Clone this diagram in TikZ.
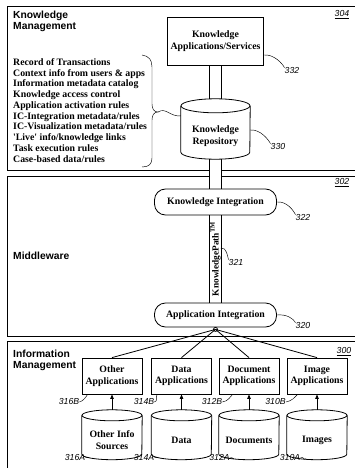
\documentclass[tikz,border=0pt]{standalone}
\usepackage{fontspec}
\setmainfont{Liberation Serif}
\newfontfamily\hfont{Liberation Sans}
\usetikzlibrary{arrows.meta,calc}
\pgfdeclarelayer{background}
\pgfsetlayers{background,main}
\newcommand\cylshape[3]{% node, rx, ry
  \draw[line] ([yshift=#3]#1.north west) -- ([yshift=#3]#1.south west)
    arc[start angle=180,end angle=360,x radius=#2,y radius=#3]
    -- ([yshift=#3]#1.north east);
  \draw[line] ([yshift=#3]#1.north) ellipse[x radius=#2,y radius=#3];
}
\newcommand\pipeseg[3]{% from, to, fill extra
  \begin{pgfonlayer}{background}
    \fill[white] ([xshift=-6pt,yshift=-#3]#1) rectangle ([xshift=6pt,yshift=#3]#2);
  \end{pgfonlayer}
  \draw[line] ([xshift=-6pt]#1) -- ([xshift=-6pt]#1 |- #2);
  \draw[line] ([xshift=6pt]#1) -- ([xshift=6pt]#1 |- #2);
}
\begin{document}
\begin{tikzpicture}[x=1pt,y=1pt,
  line/.style={line width=0.8pt},
  panel/.style={line width=1pt},
  box/.style={draw,line width=0.8pt,align=center,inner sep=1pt,font=\bfseries\fontsize{9.8}{11.5}\selectfont},
  pill/.style={box,rounded corners=11pt,minimum width=122pt},
  cyltext/.style={align=center,inner sep=0pt,font=\bfseries\fontsize{9.8}{11.5}\selectfont},
  head/.style={anchor=base west,inner sep=0pt,font=\hfont\bfseries\fontsize{10.3}{10.5}\selectfont},
  num/.style={inner sep=0pt,font=\hfont\itshape\fontsize{8.7}{9}\selectfont},
  leader/.style={line width=0.45pt},
  conn/.style={line width=0.8pt},
  uparrow/.style={line width=0.8pt,-{Triangle[length=4.5pt,width=3.5pt]}},
]
\useasboundingbox (0,0) rectangle (354,-468);
\clip (0,0) rectangle (354,-468);

% panels
\begin{pgfonlayer}{background}
\draw[panel] (7,-7) rectangle (370,-170);
\draw[panel] (7,-176) rectangle (370,-336);
\draw[panel] (7,-341) rectangle (370,-480);
\end{pgfonlayer}

% headings
\node[head] (km1) at (13,-19) {Knowledge};
\node[head] (km2) at (13,-29.5) {Management};
\node[head] (mw) at (13,-259) {Middleware};
\node[head] (im1) at (13,-357) {Information};
\node[head] (im2) at (13,-368) {Management};

\node[num] (n304) at (342,-15) {\underline{304}};
\node[num] (n302) at (342,-183) {\underline{302}};
\node[num] (n300) at (344,-352) {\underline{300}};

% list
\node[anchor=north west,inner sep=0pt,align=left,font=\bfseries\fontsize{9.8}{10.75}\selectfont] (list) at (13,-58.2)
 {Record of Transactions\\Context info from users \& apps\\Information metadata catalog\\Knowledge access control\\Application activation rules\\IC-Integration metadata/rules\\IC-Visualization metadata/rules\\\textquotesingle Live\textquotesingle{} info/knowledge links\\Task execution rules\\Case-based data/rules};

% main column
\node[box,minimum width=96pt,minimum height=48pt] (ka) at (215.5,-41) {Knowledge\\Applications/Services};
\node[cyltext,minimum width=69pt,minimum height=46pt] (kr) at (215.5,-136) {Knowledge\\Repository};
\cylshape{kr}{34.5pt}{7pt}
\coordinate (krtop) at ([yshift=14pt]kr.north);
\node[pill,minimum height=26pt] (ki) at (215.5,-202) {Knowledge Integration};
\node[pill,minimum height=24pt] (ai) at (215.5,-315) {Application Integration};

\pipeseg{ka.south}{krtop}{0pt}
\pipeseg{kr.south}{ki.north}{-2pt}
\pipeseg{ki.south}{ai.north}{-1pt}
\node[rotate=90,inner sep=0pt,font=\bfseries\fontsize{9.3}{10}\selectfont] (kp) at ($(ki.south)!0.5!(ai.north)$) {KnowledgePath\textsuperscript{TM}};

% brace
\draw[leader] (142,-55) .. controls (149,-56) and (152,-60) .. (152,-67) -- (152,-104)
  .. controls (152,-109) and (154,-112) .. (158,-112) coordinate (brtip)
  .. controls (154,-112) and (152,-115) .. (152,-120) -- (152,-158)
  .. controls (152,-164) and (149,-167) .. (142,-167);
\draw[leader] (brtip) .. controls (166,-107) and (170,-117) .. ([yshift=-3pt]kr.north west);

% number labels
\node[num] (n332) at (292,-71) {332};
\draw[leader] ([yshift=-14pt]ka.east) .. controls +(10,1) and +(-2,4) .. (n332.north west);
\node[num] (n330) at (278,-147) {330};
\draw[leader] ([yshift=6pt]kr.east) .. controls +(10,1) and +(-2,4) .. (n330.north west);
\node[num] (n322) at (303,-218) {322};
\draw[leader] (ki.east) .. controls +(10,1) and +(-2,4) .. (n322.north west);
\node[num] (n321) at (236,-263) {321};
\draw[leader] ([yshift=11pt]kp.south) .. controls +(6,1) and +(-1,3) .. (n321.north west);
\node[num] (n320) at (303,-326) {320};
\draw[leader] (ai.east) .. controls +(10,1) and +(-2,4) .. (n320.north west);

% applications
\node[box,minimum width=60pt,minimum height=36pt] (a316) at (112,-376) {Other\\Applications};
\node[box,minimum width=60pt,minimum height=36pt] (a314) at (181.5,-376) {Data\\Applications};
\node[box,minimum width=60pt,minimum height=36pt] (a312) at (249,-376) {Document\\Applications};
\node[box,minimum width=60pt,minimum height=36pt] (a310) at (317,-376) {Image\\Applications};

% data sources
\node[cyltext,minimum width=60pt,minimum height=38.5pt] (d316) at (112,-440.25) {Other Info\\Sources};
\node[cyltext,minimum width=60pt,minimum height=38.5pt] (d314) at (181.5,-440.25) {Data};
\node[cyltext,minimum width=60pt,minimum height=38.5pt] (d312) at (249,-440.25) {Documents};
\node[cyltext,minimum width=60pt,minimum height=38.5pt] (d310) at (317,-440.25) {Images};
\foreach \n in {d316,d314,d312,d310} {\cylshape{\n}{30pt}{5.5pt}}

\foreach \n in {316,314,312,310} {\draw[uparrow] ([yshift=11pt]d\n.north) -- (a\n.south);}

% fan
\coordinate (hub) at ([yshift=-2pt]ai.south);
\draw[line] (hub) circle[radius=2pt];
\foreach \n in {a316,a314,a312,a310} {\draw[conn] (hub) -- (\n.north);}

% B labels
\node[num] (l316b) at (69,-402) {316B};
\draw[leader] (l316b.east) .. controls +(4,1) and +(-2,-3) .. ([xshift=6pt]a316.south west);
\node[num] (l314b) at (144,-402) {314B};
\draw[leader] (l314b.east) .. controls +(4,1) and +(-2,-3) .. ([xshift=6pt]a314.south west);
\node[num] (l312b) at (212,-402) {312B};
\draw[leader] (l312b.east) .. controls +(6,1) and +(-3,-3) .. ([xshift=14pt]a312.south west);
\node[num] (l310b) at (275.5,-402) {310B};
\draw[leader] (l310b.east) .. controls +(6,1) and +(-3,-3) .. ([xshift=11pt]a310.south west);

% A labels
\node[num] (l316a) at (75,-457.5) {316A};
\draw[leader] (l316a.east) .. controls +(4,1) and +(-2,-2) .. ([xshift=7pt,yshift=2.5pt]d316.south west);
\node[num] (l314a) at (144,-457.5) {314A};
\draw[leader] (l314a.east) .. controls +(4,1) and +(-2,-2) .. ([xshift=7pt,yshift=2.5pt]d314.south west);
\node[num] (l312a) at (219.5,-457.5) {312A};
\draw[leader] (l312a.east) .. controls +(4,1) and +(-2,-2) .. ([xshift=15pt,yshift=1.5pt]d312.south west);
\node[num] (l310a) at (290,-457.5) {310A};
\draw[leader] (l310a.east) .. controls +(4,1) and +(-2,-2) .. ([xshift=19pt,yshift=1pt]d310.south west);
\end{tikzpicture}
\end{document}
